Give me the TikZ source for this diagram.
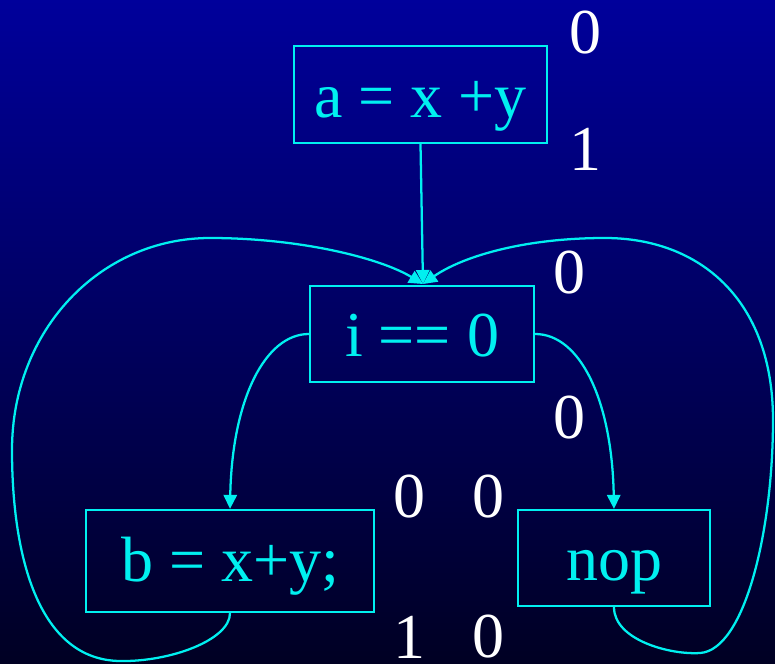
\documentclass[tikz,border=0pt]{standalone}
\usepackage{fontspec}
\setmainfont{Liberation Serif}
\usetikzlibrary{arrows.meta}
\definecolor{cy}{RGB}{0,240,240}
\definecolor{topbl}{RGB}{0,0,155}
\definecolor{botbl}{RGB}{0,0,35}
\begin{document}
\begin{tikzpicture}[x=0.75pt,y=-0.75pt,
  box/.style={draw=cy,line width=1.7pt,text=cy,font=\fontsize{48}{56}\selectfont,inner sep=0pt,minimum height=72pt,text height=34pt,text depth=0pt},
  num/.style={text=white,font=\fontsize{48}{56}\selectfont,inner sep=0pt},
  conn/.style={draw=cy,line width=1.7pt,-{Triangle[length=10.5pt,width=10pt]}}]
\shade[top color=topbl,bottom color=botbl] (0,0) rectangle (775,664);
\useasboundingbox (0,0) rectangle (775,664);
\node[box,minimum width=189.75pt,minimum height=72.75pt] (A) at (420.5,94.5) {a = x +y};
\node[box,minimum width=168pt] (B) at (422,334) {i == 0};
\node[box,minimum width=216pt,minimum height=76.5pt,text height=31pt] (C) at (230,561) {b = x+y;};
\node[box,minimum width=144pt] (D) at (614,558) {nop};
\node[num] (n1) at (585,33) {0};
\node[num] (n2) at (585,149) {1};
\node[num] (n3) at (569,273) {0};
\node[num] (n4) at (569,418) {0};
\node[num] (n5) at (409,497) {0};
\node[num] (n6) at (488,497) {0};
\node[num] (n7) at (409,637) {1};
\node[num] (n8) at (488,637) {0};
\coordinate (Bin) at (423,284);
\draw[conn] (A.south) -- (Bin);
\draw[conn] (B.west) .. controls (265,334) and (232,400) .. (C.north);
\draw[conn] (B.east) .. controls (580,334) and (612,400) .. (D.north);
\draw[conn] (C.south) .. controls (230,640) and (170,662) .. (120,661)
  .. controls (40,660) and (12,560) .. (12,450)
  .. controls (12,330) and (100,238) .. (210,238)
  .. controls (300,238) and (380,258) .. (Bin);
\draw[conn] (D.south) .. controls (614,640) and (670,655) .. (700,653)
  .. controls (745,650) and (773,530) .. (773,420)
  .. controls (773,300) and (700,238) .. (605,238)
  .. controls (520,238) and (460,258) .. (Bin);
\end{tikzpicture}
\end{document}
